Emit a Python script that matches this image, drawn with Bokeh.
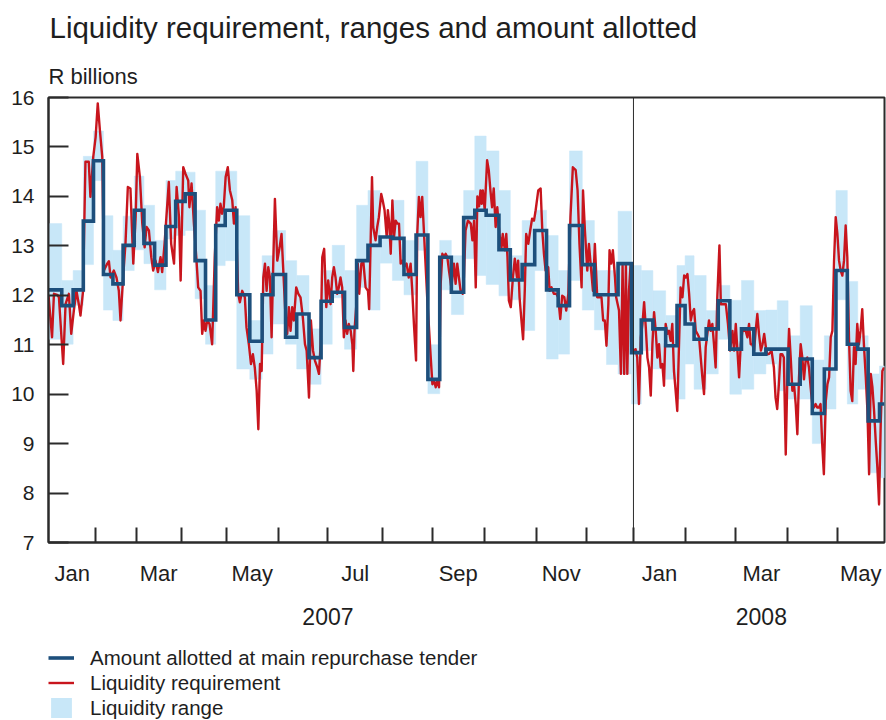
import numpy as np
from bokeh.plotting import figure
from bokeh.layouts import column
from bokeh.models import (Range1d, FixedTicker, LinearAxis, Span, Title, Legend,
                          LegendItem, GlobalInlineStyleSheet)
from bokeh.embed import file_html
from bokeh.resources import INLINE

# ---------------- data ----------------
month_names = ["Jan", "Feb", "Mar", "Apr", "May", "Jun", "Jul", "Aug", "Sep", "Oct", "Nov", "Dec",
               "Jan", "Feb", "Mar", "Apr", "May"]
# number of observation days in each month (Jan 2007 - May 2008)
month_obs = [20, 17, 19, 19, 22, 21, 23, 21, 22, 22, 21, 20, 22, 21, 22, 21, 20]
year_names = ["2007", "2008"]
y_ticks = [7, 8, 9, 10, 11, 12, 13, 14, 15, 16]

# weekly main repo tender: start of each tender week (observation index)
week_start = [0, 5.6, 10.4, 14.7, 19.0, 23.2, 27.2, 31.5, 36.2, 40.3, 44.8, 49.6, 53.7, 57.7,
              61.9, 66.3, 70.6, 74.6, 79.5, 85.0, 90.2, 94.8, 100.1, 104.8, 110.0, 115.1, 119.8,
              125.0, 130.1, 134.9, 140.0, 145.2, 150.1, 155.2, 160.2, 165.2, 170.1, 175.3, 180.0,
              184.8, 190.2, 195.0, 200.0, 205.3, 210.3, 215.2, 220.0, 225.4, 230.5, 235.6, 240.5,
              246.2, 250.3, 255.2, 260.6, 265.4, 268.8, 272.6, 277.7, 282.8, 287.7, 292.6, 297.8,
              302.9, 307.7, 312.3, 317.4, 322.5, 327.6, 332.5, 337.3, 341.7, 346.1, 350.9]
allotted = [12.11, 11.79, 12.11, 13.50, 14.72, 12.42, 12.23, 13.01, 13.72, 13.05,
            12.61, 13.39, 13.90, 14.05, 12.70, 11.50, 13.41, 13.72, 12.01, 11.07,
            12.01, 12.42, 11.15, 11.62, 10.74, 11.88, 12.06, 11.35, 12.70, 13.01,
            13.18, 13.15, 12.42, 13.22, 10.30, 12.77, 12.06, 13.57, 13.72, 13.62,
            12.92, 12.31, 12.62, 13.31, 12.11, 11.79, 13.41, 12.62, 12.01, 12.01,
            12.64, 10.84, 11.50, 11.32, 10.98, 11.79, 11.42, 11.11, 11.32, 11.89,
            10.91, 11.32, 10.81, 10.91, 10.91, 10.20, 10.71, 9.61, 10.51, 12.50,
            11.01, 10.91, 9.46, 9.80]
range_hi = [13.45, 12.30, 12.50, 14.81, 15.32, 13.61, 12.91, 13.60, 14.41, 13.82,
            13.11, 14.32, 14.51, 14.49, 13.72, 12.20, 14.51, 14.51, 13.61, 11.49,
            12.80, 13.31, 12.70, 12.40, 11.32, 12.50, 13.01, 12.50, 13.82, 14.12,
            13.15, 13.92, 13.11, 14.71, 11.00, 13.11, 12.80, 14.12, 15.22, 14.92,
            14.12, 12.80, 13.51, 13.72, 13.21, 12.50, 14.92, 13.51, 12.50, 12.50,
            13.70, 12.60, 12.50, 12.09, 11.59, 12.60, 12.80, 12.40, 11.69, 12.20,
            11.90, 12.30, 11.69, 11.70, 11.89, 11.18, 11.79, 10.69, 11.18, 14.12,
            12.28, 11.18, 10.41, 10.57]
range_lo = [11.11, 11.01, 11.80, 12.62, 14.32, 11.70, 11.49, 12.50, 12.92, 12.64,
            12.11, 13.14, 13.21, 13.31, 11.93, 11.01, 12.60, 12.70, 10.51, 10.30,
            10.81, 11.42, 11.01, 10.51, 10.20, 11.01, 11.95, 10.91, 12.16, 11.70,
            12.65, 12.30, 12.01, 12.91, 10.01, 12.11, 11.61, 12.74, 12.40, 12.22,
            11.99, 11.91, 11.29, 12.50, 10.71, 10.81, 12.30, 11.70, 11.30, 10.60,
            10.41, 9.80, 10.88, 10.51, 10.30, 9.90, 10.61, 10.10, 10.41, 11.11,
            10.00, 10.10, 10.41, 10.61, 10.07, 9.90, 9.90, 9.00, 9.70, 11.91,
            9.80, 10.10, 8.41, 8.31]

# daily liquidity requirement (observation index, R billions)
req_t = [0.0, 1.5, 2.3, 3.7, 4.4, 6.2, 7.2, 8.6, 9.6, 10.7, 11.8, 12.8, 13.5, 14.6, 15.6, 17.0,
         17.7, 18.9, 19.9, 20.8, 21.7, 22.7, 23.4, 24.8, 25.5, 26.2, 27.6, 28.7, 29.7, 30.4,
         31.5, 32.5, 33.5, 34.6, 35.8, 36.8, 37.5, 38.6, 39.6, 40.6, 41.4, 42.4, 43.4, 44.2,
         45.2, 46.2, 47.3, 48.0, 49.0, 50.8, 51.8, 53.0, 54.1, 55.1, 55.8, 56.9, 57.9, 59.0,
         59.5, 60.4, 61.4, 62.4, 63.2, 64.2, 64.9, 65.6, 66.3, 67.0, 68.0, 69.1, 70.2, 71.2,
         71.9, 72.6, 73.3, 74.0, 74.8, 75.7, 76.6, 77.6, 78.3, 79.0, 80.1, 80.8, 81.8, 82.9,
         83.6, 84.6, 85.5, 86.3, 87.1, 87.9, 88.6, 89.3, 90.0, 90.7, 91.4, 92.1, 92.8, 93.5,
         94.2, 94.9, 95.6, 96.6, 97.6, 98.4, 99.0, 100.1, 100.8, 101.5, 102.2, 102.9, 103.6,
         104.6, 105.5, 106.4, 107.4, 108.3, 109.0, 110.0, 110.8, 111.7, 112.5, 113.5, 114.2,
         114.9, 115.6, 116.4, 117.3, 118.1, 118.7, 119.1, 119.8, 120.5, 121.2, 121.9, 122.6,
         123.3, 124.0, 124.7, 125.4, 126.1, 126.8, 127.6, 128.3, 128.7, 129.2, 130.1, 130.6,
         131.2, 132.1, 132.9, 133.9, 134.9, 135.4, 136.0, 136.6, 137.1, 138.1, 138.8, 139.5,
         140.5, 141.1, 141.9, 142.8, 143.3, 143.9, 144.5, 145.2, 145.9, 146.6, 147.3, 148.0,
         148.7, 149.4, 150.1, 151.2, 152.1, 152.9, 153.6, 154.3, 155.2, 155.7, 156.4, 157.1,
         157.8, 158.5, 159.9, 161.4, 162.1, 162.8, 163.5, 164.2, 164.9, 165.6, 166.3, 167.0,
         167.7, 168.4, 169.1, 170.1, 171.2, 171.9, 172.6, 173.3, 174.0, 174.9, 175.4, 176.1,
         177.1, 178.3, 179.0, 179.7, 180.4, 181.1, 181.8, 182.4, 182.9, 183.4, 184.2, 185.2,
         185.9, 186.6, 187.3, 188.0, 188.8, 189.5, 190.4, 191.3, 191.8, 192.7, 193.3, 193.8,
         194.4, 195.2, 196.1, 196.9, 197.8, 198.3, 198.9, 199.7, 200.4, 201.1, 201.7, 202.6,
         203.4, 204.2, 205.0, 205.7, 206.8, 207.8, 208.5, 209.2, 209.9, 211.0, 211.6, 212.4,
         213.4, 214.4, 215.2, 216.1, 216.9, 217.8, 218.6, 219.5, 220.4, 221.4, 222.6, 223.4,
         224.2, 225.1, 225.7, 226.5, 227.5, 228.2, 228.9, 229.9, 230.7, 231.7, 232.7, 233.5,
         234.2, 234.9, 235.6, 236.4, 236.9, 237.6, 238.3, 239.2, 239.7, 240.9, 241.7, 242.4,
         243.1, 243.8, 244.4, 245.1, 245.8, 246.5, 247.2, 247.9, 248.6, 249.3, 250.1, 250.8,
         251.5, 252.2, 252.9, 253.6, 254.3, 255.0, 255.7, 256.4, 257.1, 257.8, 258.5, 259.2,
         259.9, 260.6, 261.3, 262.0, 262.7, 263.4, 264.1, 264.8, 265.5, 266.2, 266.9, 267.7,
         268.4, 269.1, 269.8, 270.5, 271.2, 271.9, 272.6, 273.3, 274.0, 274.7, 275.4, 276.1,
         276.8, 277.5, 278.2, 278.9, 279.6, 280.3, 281.0, 281.7, 282.4, 283.3, 283.9, 285.0,
         286.0, 286.9, 287.8, 288.8, 289.5, 290.2, 290.9, 291.6, 292.3, 293.0, 293.7, 294.4,
         295.1, 295.8, 296.5, 297.2, 297.9, 298.6, 299.3, 300.0, 300.8, 301.5, 302.2, 302.9,
         303.5, 304.2, 305.3, 306.3, 307.0, 307.7, 308.4, 309.1, 309.8, 310.5, 311.3, 312.0,
         312.7, 313.4, 314.1, 314.8, 315.5, 316.2, 316.9, 317.6, 318.3, 319.0, 319.7, 320.4,
         321.1, 321.8, 322.5, 323.2, 323.9, 324.6, 325.3, 326.0, 326.7, 327.4, 328.2, 328.9,
         329.6, 330.3, 331.0, 331.7, 332.4, 333.1, 333.8, 334.5, 335.2, 335.9, 336.6, 337.3,
         338.0, 338.7, 339.4, 340.1, 340.8, 341.5, 342.2, 342.9, 343.6, 344.3, 345.1, 345.8,
         346.5, 347.2, 347.9, 348.6, 349.3, 350.0, 350.7, 351.4, 352.1, 352.8]
req_v = [12.00, 11.15, 12.03, 12.01, 11.96, 10.61, 11.82, 12.03, 11.22, 11.69, 12.09, 11.82, 11.59,
         12.09, 14.70, 14.70, 13.99, 14.80, 15.20, 15.88, 15.34, 14.80, 12.50, 12.64, 12.69, 12.36,
         12.50, 12.36, 12.09, 11.49, 12.36, 13.04, 14.19, 14.16, 12.64, 13.58, 14.86, 14.39, 13.45,
         12.97, 13.38, 13.31, 12.77, 12.50, 12.70, 12.47, 12.77, 12.47, 13.04, 14.29, 13.04, 12.64,
         14.19, 13.58, 12.30, 14.59, 14.45, 14.32, 13.78, 14.26, 13.45, 12.77, 12.16, 12.09, 11.22,
         11.49, 11.28, 11.49, 11.42, 11.01, 12.77, 13.78, 13.51, 13.85, 13.65, 13.78, 14.39, 14.59,
         14.12, 13.92, 13.45, 13.78, 12.03, 11.86, 12.09, 11.96, 11.35, 11.01, 10.61, 10.81, 10.54,
         10.07, 9.29, 10.61, 10.47, 12.36, 12.64, 12.09, 12.57, 12.36, 11.15, 12.64, 13.95, 12.70,
         12.97, 13.24, 12.64, 11.55, 11.22, 11.76, 11.28, 11.76, 11.49, 12.16, 12.03, 11.96, 11.55,
         11.01, 10.88, 9.93, 11.49, 10.88, 10.68, 10.54, 10.41, 11.01, 12.77, 12.94, 11.76, 12.30,
         12.03, 11.82, 12.36, 12.57, 12.36, 12.03, 12.16, 12.36, 12.16, 11.15, 11.49, 11.22, 11.42,
         11.28, 11.01, 10.47, 11.28, 11.89, 12.64, 12.03, 12.64, 12.70, 12.16, 12.09, 11.72, 13.04,
         14.39, 13.38, 13.11, 13.38, 13.58, 14.05, 13.92, 13.72, 13.18, 13.72, 13.45, 12.84, 13.92,
         13.18, 13.51, 13.45, 13.45, 12.64, 12.70, 12.57, 12.64, 12.36, 12.64, 12.09, 11.42, 10.68,
         13.24, 13.99, 13.58, 13.99, 13.31, 11.96, 10.74, 10.20, 10.27, 10.14, 10.27, 10.14, 12.23,
         12.84, 12.77, 12.84, 12.77, 12.50, 12.16, 12.64, 12.23, 12.64, 12.36, 12.09, 12.03, 12.36,
         13.31, 13.51, 13.45, 13.11, 13.51, 12.16, 14.00, 13.80, 14.12, 13.85, 14.12, 13.72, 14.73,
         14.53, 14.12, 13.78, 14.16, 13.38, 13.78, 13.24, 12.97, 13.24, 12.91, 13.24, 12.77, 11.89,
         11.76, 12.36, 12.74, 12.36, 12.70, 11.96, 11.49, 11.11, 12.09, 13.24, 13.04, 13.31, 13.55,
         13.51, 13.72, 14.12, 14.16, 13.31, 12.84, 12.50, 12.57, 12.09, 12.16, 12.03, 12.03, 11.96,
         11.52, 11.99, 11.96, 11.69, 12.03, 13.58, 14.59, 14.53, 14.12, 13.04, 12.16, 14.12, 13.31,
         12.50, 13.04, 12.64, 12.09, 13.04, 11.96, 11.96, 11.96, 11.49, 11.49, 10.98, 11.82, 12.91,
         12.64, 12.91, 12.36, 11.96, 11.69, 10.41, 12.60, 10.41, 12.60, 10.41, 12.09, 12.64, 10.88,
         10.88, 10.91, 10.74, 9.80, 11.15, 11.42, 11.86, 11.35, 10.74, 10.54, 9.97, 11.01, 11.66,
         11.28, 10.74, 11.01, 10.54, 10.61, 10.17, 11.42, 11.22, 11.28, 11.08, 11.42, 10.47, 10.07,
         9.66, 10.95, 12.16, 11.96, 12.40, 12.36, 12.43, 12.03, 11.49, 11.66, 11.72, 11.28, 11.22,
         11.15, 10.74, 10.34, 10.00, 10.95, 11.22, 11.49, 11.28, 11.42, 11.01, 10.54, 11.96, 13.01,
         11.82, 11.82, 11.82, 11.42, 10.88, 11.28, 10.88, 11.42, 10.88, 10.34, 11.01, 11.28, 11.28,
         11.28, 11.15, 11.42, 11.01, 11.01, 10.88, 11.28, 11.62, 11.22, 10.88, 11.01, 11.22, 10.95,
         10.81, 10.81, 10.88, 10.54, 9.93, 9.70, 10.20, 10.81, 10.81, 10.74, 8.78, 10.41, 11.32,
         10.74, 10.07, 10.20, 9.80, 9.19, 10.34, 11.01, 10.74, 10.30, 10.68, 10.74, 10.54, 10.14,
         9.80, 9.73, 9.80, 9.73, 9.73, 9.80, 8.99, 8.38, 9.86, 10.20, 10.34, 11.15, 11.28, 12.70,
         13.58, 13.24, 12.70, 12.50, 12.40, 12.70, 13.41, 12.77, 11.15, 10.07, 9.86, 10.95, 10.61,
         11.42, 11.01, 11.28, 11.72, 11.01, 10.34, 9.66, 8.38, 10.41, 10.14, 9.66, 9.05, 8.51, 7.77,
         9.39, 10.47, 10.54]

# ---------------- derived ----------------
month_edges = np.concatenate([[0], np.cumsum(month_obs)]).astype(float)
n_obs = month_edges[-1]
month_mid = (month_edges[:-1] + month_edges[1:]) / 2
label_pos = [float(v) for v in month_mid[::2]]
label_txt = month_names[::2]
year_pos = [float(month_edges[6]), float(month_mid[14])]
week_end = week_start[1:] + [float(n_obs)]
step_x = week_start + [float(n_obs)]
step_y = allotted + [allotted[-1]]

FONT = "Liberation Sans"
TXT = "#1e1e1e"
AX = "#2b2b2b"
BLUE = "#1d4f7c"
RED = "#c8151d"
LIGHT = "#c8e7f8"

p = figure(width=886, height=640, x_range=Range1d(0, n_obs), y_range=Range1d(7, 16),
           output_backend="svg", toolbar_location=None, x_axis_type=None, title=None,
           min_border_left=48, min_border_right=2, min_border_top=97, min_border_bottom=98)
p.grid.grid_line_color = None
p.outline_line_color = AX
p.outline_line_width = 2
p.background_fill_color = "white"
p.border_fill_color = "white"
p.stylesheets = [GlobalInlineStyleSheet(css="html, body { overflow: hidden; }")]

rng = p.quad(left=week_start, right=week_end, bottom=range_lo, top=range_hi,
             fill_color=LIGHT, line_color=LIGHT, line_width=0.5)
req = p.line(req_t, req_v, line_color=RED, line_width=2.4, line_join="round")
allot = p.step(step_x, step_y, mode="after", line_color=BLUE, line_width=3.6, line_join="miter")

p.add_layout(Span(location=float(month_edges[12]), dimension="height",
                  line_color=AX, line_width=1))

# y axis
ya = p.yaxis[0]
ya.ticker = FixedTicker(ticks=y_ticks)
ya.major_tick_in = 20
ya.major_tick_out = 0
ya.minor_tick_line_color = None
ya.major_tick_line_color = AX
ya.major_tick_line_width = 2
ya.axis_line_color = AX
ya.axis_line_width = 2
ya.major_label_standoff = 14
ya.major_label_text_font = FONT
ya.major_label_text_font_size = "21px"
ya.major_label_text_color = TXT

# month axis: boundaries as inner ticks, names centred in months
xa = LinearAxis(ticker=FixedTicker(ticks=label_pos, minor_ticks=[float(v) for v in month_edges[1:-1]]),
                major_label_overrides={k: v for k, v in zip(label_pos, label_txt)},
                axis_line_color=AX, axis_line_width=2,
                major_tick_line_color=None, major_tick_in=0, major_tick_out=0,
                minor_tick_line_color=AX, minor_tick_line_width=2, minor_tick_in=15, minor_tick_out=0,
                major_label_standoff=18, major_label_text_font=FONT,
                major_label_text_font_size="22px", major_label_text_color=TXT)
p.add_layout(xa, "below")

yr = LinearAxis(ticker=FixedTicker(ticks=year_pos),
                major_label_overrides={k: v for k, v in zip(year_pos, year_names)},
                axis_line_color=None, major_tick_line_color=None, minor_tick_line_color=None,
                major_tick_in=0, major_tick_out=0, minor_tick_in=0, minor_tick_out=0,
                major_label_standoff=19, major_label_text_font=FONT,
                major_label_text_font_size="23px", major_label_text_color=TXT)
p.add_layout(yr, "below")

# unit label (closest to frame) and title above it
p.add_layout(Title(text="R billions", align="left", offset=0, standoff=18,
                   text_font=FONT, text_font_size="22px", text_color=TXT,
                   text_font_style="normal"), "above")
p.add_layout(Title(text="Liquidity requirement, ranges and amount allotted", align="left",
                   offset=1, standoff=17, text_font=FONT, text_font_size="29.5px",
                   text_color=TXT, text_font_style="normal"), "above")

# legend strip under the chart (same series, drawn out of view; only the keys show)
leg = figure(width=886, height=80, x_range=Range1d(-2, -1), y_range=Range1d(0, 1),
             output_backend="svg", toolbar_location=None, x_axis_type=None, y_axis_type=None,
             title=None, min_border=0, outline_line_color=None)
leg.grid.grid_line_color = None
k_allot = leg.step(step_x, step_y, mode="after", line_color=BLUE, line_width=3.6)
k_req = leg.line(req_t, req_v, line_color=RED, line_width=2.4)
k_rng = leg.quad(left=week_start, right=week_end, bottom=range_lo, top=range_hi,
                 fill_color=LIGHT, line_color=None)
legend = Legend(items=[LegendItem(label="Amount allotted at main repurchase tender", renderers=[k_allot]),
                       LegendItem(label="Liquidity requirement", renderers=[k_req]),
                       LegendItem(label="Liquidity range", renderers=[k_rng])],
                location=(0, 0), orientation="vertical", padding=0, margin=0, spacing=0,
                glyph_width=26, glyph_height=25, label_height=25, label_standoff=16,
                label_text_font=FONT, label_text_font_size="20.5px", label_text_color=TXT,
                border_line_color=None, background_fill_alpha=0)
leg.add_layout(legend, "center")

layout = column(p, leg, spacing=0)
open("out.html", "w").write(file_html(layout, INLINE))
